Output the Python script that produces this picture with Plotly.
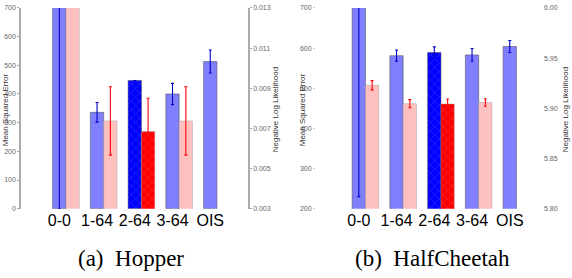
import plotly.graph_objects as go

# ---------------- data ----------------
categories = ["0-0", "1-64", "2-64", "3-64", "OIS"]
highlight = "2-64"

# Hopper
hopper_mse = [1000, 336, 447, 400, 513]
hopper_mse_err = [1000, 34, 0, 37, 40]
hopper_nll = [0.02, 0.00737, 0.00684, 0.00737, None]
hopper_nll_err = [0, 0.0017, 0.00166, 0.0017, 0]

# HalfCheetah
cheetah_mse = [800, 581, 589, 583, 604]
cheetah_mse_err = [570, 14, 14, 16, 15]
cheetah_nll = [5.923, 5.9046, 5.9043, 5.9058, None]
cheetah_nll_err = [0.0046, 0.004, 0.005, 0.0037, 0]

hopper_mse_ticks = [0, 100, 200, 300, 400, 500, 600, 700]
hopper_nll_ticks = [0.003, 0.005, 0.007, 0.009, 0.011, 0.013]
cheetah_mse_ticks = [200, 300, 400, 500, 600, 700]
cheetah_nll_ticks = [5.80, 5.85, 5.90, 5.95, 6.00]

# ---------------- style ----------------
W, H = 572, 278
BAR_W = 0.353
LIGHT_BLUE, DARK_BLUE = "#8080ff", "#0000ff"
LIGHT_PINK, DARK_RED = "#ffc0c0", "#ff0000"
xs = list(range(len(categories)))


def colors(light, dark):
    return [dark if c == highlight else light for c in categories]


def patterns():
    return ["x" if c == highlight else "" for c in categories]


fig = go.Figure()


def add_panel(mse, mse_err, nll, nll_err, xa, ya, ya2):
    fig.add_trace(go.Bar(
        x=xs, y=mse, width=BAR_W, offset=-BAR_W / 2,
        xaxis=xa, yaxis=ya,
        marker=dict(color=colors(LIGHT_BLUE, DARK_BLUE),
                    line=dict(color="rgba(70,70,70,0.5)", width=1),
                    pattern=dict(shape=patterns(), fgcolor="black", fgopacity=0.15,
                                 size=6, solidity=0.25)),
        error_y=dict(type="data", array=mse_err, color="#0000c8", thickness=1.1, width=1.5),
        showlegend=False,
    ))
    fig.add_trace(go.Bar(
        x=xs, y=nll, width=BAR_W, offset=BAR_W / 2,
        xaxis=xa, yaxis=ya2,
        marker=dict(color=colors(LIGHT_PINK, DARK_RED),
                    line=dict(color="rgba(150,150,150,0.4)", width=1),
                    pattern=dict(shape=patterns(), fgcolor="black", fgopacity=0.15,
                                 size=6, solidity=0.25)),
        error_y=dict(type="data", array=nll_err, color="#ff0000", thickness=1.1, width=1.5),
        showlegend=False,
    ))


add_panel(hopper_mse, hopper_mse_err, hopper_nll, hopper_nll_err, "x", "y", "y2")
add_panel(cheetah_mse, cheetah_mse_err, cheetah_nll, cheetah_nll_err, "x2", "y3", "y4")

ydom = [68 / H, 274 / H]
tickfont = dict(family="Liberation Sans", size=7, color="#666666")
xfont = dict(family="Liberation Sans", size=16, color="black")

xcommon = dict(tickvals=xs, ticktext=categories, tickfont=xfont, showgrid=False,
               zeroline=False, showline=False, ticks="")
fig.update_layout(
    width=W, height=H, margin=dict(l=0, r=0, t=0, b=0),
    paper_bgcolor="white", plot_bgcolor="white", barmode="overlay",
    xaxis=dict(domain=[21 / W, 248 / W], range=[-1.015, 5.0], anchor="y", **xcommon),
    xaxis2=dict(domain=[316 / W, 543 / W], range=[-1.134, 4.88], anchor="y3", **xcommon),
    yaxis=dict(domain=ydom, range=[0, 700], tickvals=hopper_mse_ticks, tickfont=tickfont,
               showgrid=False, zeroline=False, showline=True, linecolor="#aaa", linewidth=1.5,
               ticks="outside", ticklen=2, tickcolor="#aaa", anchor="x"),
    yaxis2=dict(overlaying="y", side="right", range=[0.003, 0.013], tickvals=hopper_nll_ticks,
                tickformat=".3f", tickfont=tickfont, showgrid=False, zeroline=False,
                showline=True, linecolor="#aaa", linewidth=1.5, ticks="outside", ticklen=2,
                tickcolor="#aaa", anchor="x"),
    yaxis3=dict(domain=ydom, range=[200, 700], tickvals=cheetah_mse_ticks, tickfont=tickfont,
                showgrid=False, zeroline=False, showline=False, ticks="outside", ticklen=2,
                tickcolor="#ccc", anchor="x2"),
    yaxis4=dict(overlaying="y3", side="right", range=[5.80, 6.00], tickvals=cheetah_nll_ticks,
                tickformat=".2f", tickfont=tickfont, showgrid=False, zeroline=False,
                showline=False, ticks="", anchor="x2"),
)

title_font = dict(family="Liberation Sans", size=8, color="#333")
ymid = 1 - 109 / H
for xpx, txt in [(5, "Mean Squared Error"), (275, "Negative Log Likelihood"),
                 (302, "Mean Squared Error"), (565, "Negative Log Likelihood")]:
    fig.add_annotation(x=xpx / W, y=ymid, xref="paper", yref="paper", text=txt,
                       textangle=-90, showarrow=False, font=title_font,
                       xanchor="center", yanchor="middle", borderpad=0)

cap_font = dict(family="Liberation Serif", size=23, color="black")
for xpx, txt in [(131, "(a)  Hopper"), (432, "(b)  HalfCheetah")]:
    fig.add_annotation(x=xpx / W, y=1 - 261 / H, xref="paper", yref="paper", text=txt,
                       showarrow=False, font=cap_font, xanchor="center", yanchor="middle")

fig.write_html("out.html", config={"displayModeBar": False},
               post_script="document.body.style.margin='0';")
